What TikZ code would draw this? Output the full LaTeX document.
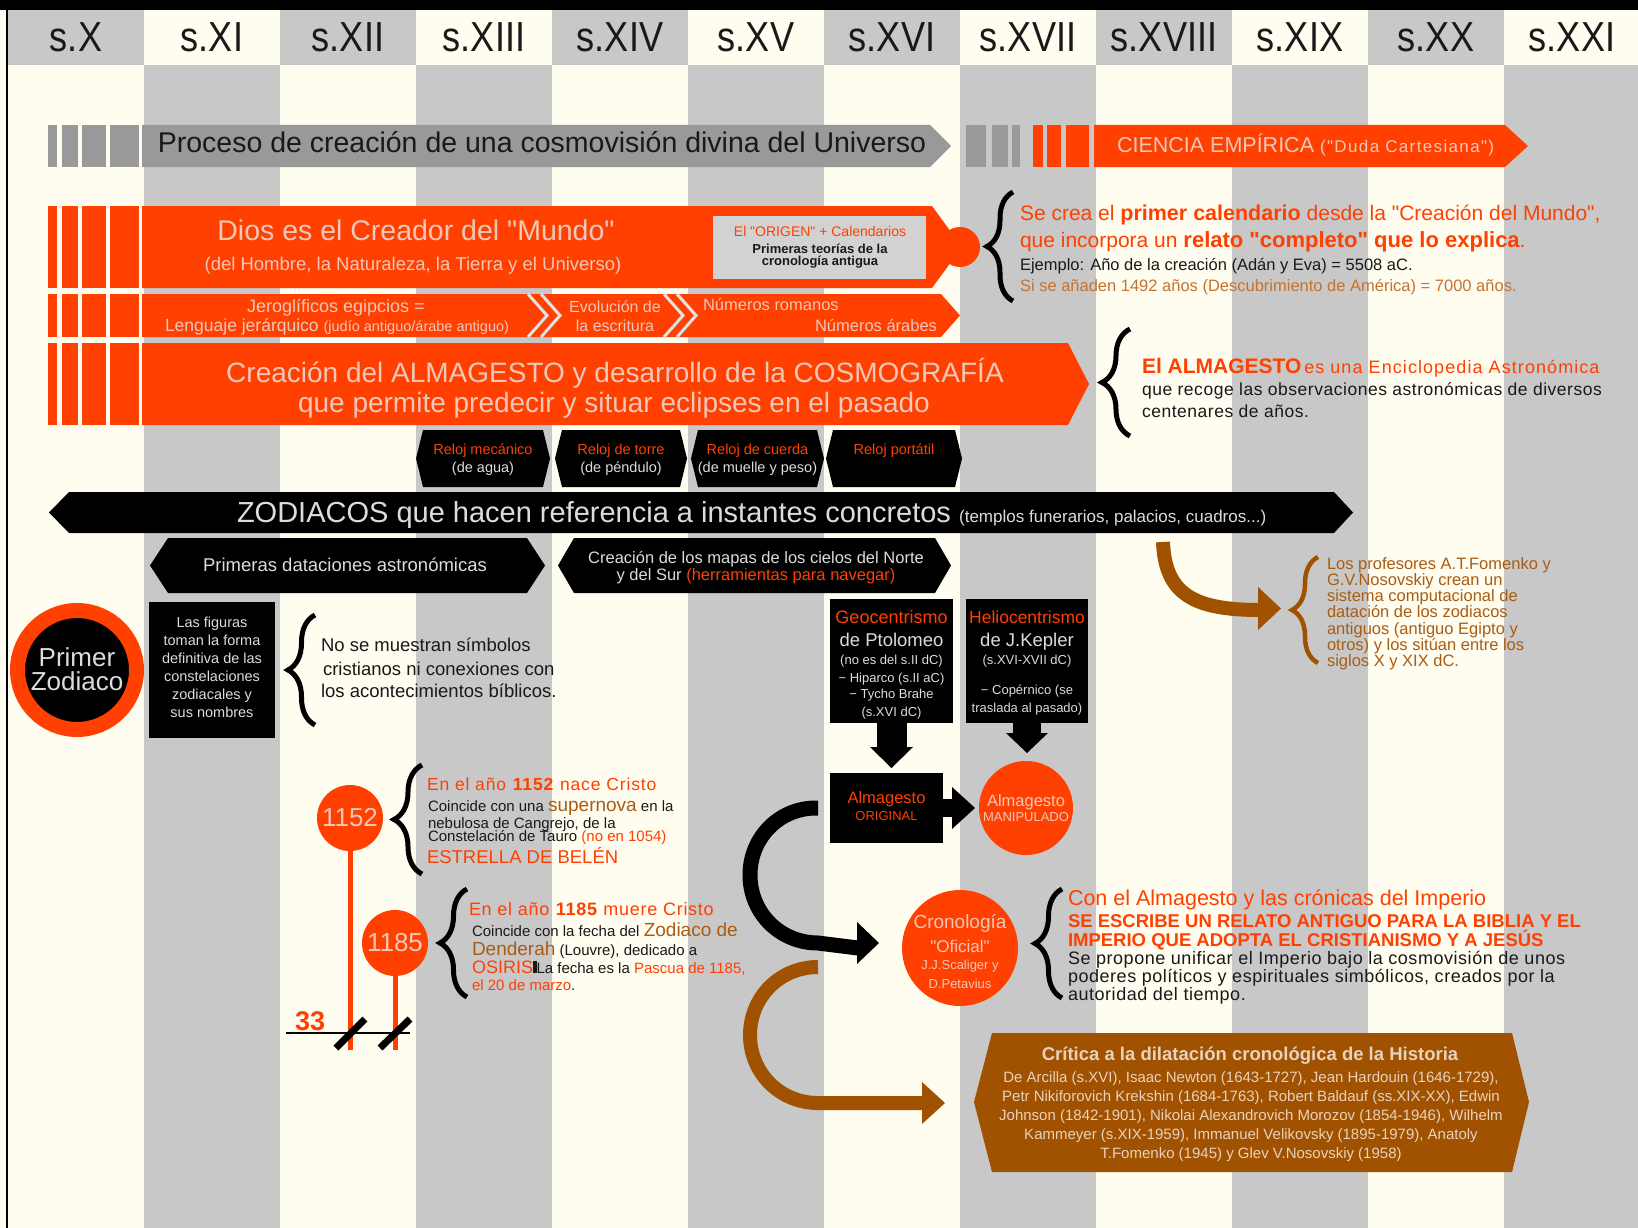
\documentclass[tikz,border=0pt]{standalone}
\usepackage{fontspec}
\usepackage{graphicx}
\setmainfont{Liberation Sans}[Ligatures=TeXOff]
\usetikzlibrary{decorations.pathreplacing}
\definecolor{og}{RGB}{255,64,0}
\definecolor{cream}{RGB}{255,252,240}
\definecolor{lgray}{RGB}{200,200,200}
\definecolor{mgray}{RGB}{153,153,153}
\definecolor{boxgray}{RGB}{210,210,210}
\definecolor{brn}{RGB}{160,82,0}
\definecolor{brtxt}{RGB}{170,92,18}
\definecolor{siena}{RGB}{195,115,50}
\definecolor{peach}{RGB}{240,200,186}
\definecolor{critxt}{RGB}{232,210,190}
\definecolor{ltxt}{RGB}{220,220,220}
\definecolor{dtxt}{RGB}{25,25,25}
\definecolor{chev}{RGB}{225,225,225}
\newcommand\fsz[1]{\fontsize{#1}{#1}\selectfont}
\newcommand\lsp[1]{\addfontfeature{LetterSpace=#1}}
\newcommand\stripes[3]{\foreach \sa/\sb in {48/57,62/78,82/106,110/139}{\fill[#3] (\sa,#1) rectangle (\sb,#2);}}
\newcommand\hexa[6]{\fill[#6] ({#1+#5},#3) -- ({#2-#5},#3) -- (#2,{(#3+#4)/2}) -- ({#2-#5},#4) -- ({#1+#5},#4) -- (#1,{(#3+#4)/2}) -- cycle;}
\begin{document}
\begin{tikzpicture}[x=1pt,y=-1pt,
  every node/.style={inner sep=0pt,outer sep=0pt},
  hdr/.style={font=\fsz{42},text=dtxt,anchor=base},
  tl/.style={anchor=base west},
  tc/.style={anchor=base},
  tr/.style={anchor=base east},
  bbrace/.style={decorate,decoration={brace,amplitude=#1},line width=5pt}]
% background
\fill[cream] (0,0) rectangle (1638,1228);
\useasboundingbox (0,0) rectangle (1638,1228);
\foreach \i in {0,...,11}{
  \pgfmathsetmacro\xa{8+136*\i}
  \pgfmathsetmacro\xb{8+136*(\i+1)}
  \ifodd\i
    \fill[cream] (\xa,10) rectangle (\xb,65);
    \fill[lgray] (\xa,65) rectangle (\xb,1228);
  \else
    \fill[lgray] (\xa,10) rectangle (\xb,65);
    \fill[cream] (\xa,65) rectangle (\xb,1228);
  \fi
}
\fill[black] (0,0) rectangle (1638,10);
\fill[black] (5.5,0) rectangle (7.5,1228);
\foreach \n [count=\c from 0] in {X,XI,XII,XIII,XIV,XV,XVI,XVII,XVIII,XIX,XX,XXI}
  \node[hdr] (hd\c) at ({76+136*\c},52) {\scalebox{0.86}[1]{s.\n}};

% Proceso banner
\stripes{125}{167}{mgray}
\fill[mgray] (142,125) -- (930,125) -- (951,146) -- (930,167) -- (142,167) -- cycle;
\node[tc,font=\fsz{28.5},text=dtxt] (proceso) at (542,153) {Proceso de creación de una cosmovisión divina del Universo};

% Ciencia banner
\foreach \sa/\sb in {966/986,992/1008,1012/1020} \fill[mgray] (\sa,125) rectangle (\sb,167);
\foreach \sa/\sb in {1033/1043,1047/1061,1066/1089} \fill[og] (\sa,125) rectangle (\sb,167);
\fill[og] (1094,125) -- (1505,125) -- (1528,146) -- (1505,167) -- (1094,167) -- cycle;
\node[tl,text=peach] (ciencia) at (1117,153) {\fsz{21.5}CIENCIA EMPÍRICA \fsz{17}\lsp{8}("Duda Cartesiana")};

% Dios row
\stripes{206}{288}{og}
\fill[og] (142,206) -- (932,206) -- (962,247) -- (932,288) -- (142,288) -- cycle;
\fill[og] (960,247) circle (20pt);
\node[tc,font=\fsz{28.5},text=peach] (dios) at (416,240) {Dios es el Creador del "Mundo"};
\node[tc,font=\fsz{18.5},text=peach] (diossub) at (413,270) {(del Hombre, la Naturaleza, la Tierra y el Universo)};
\node[fill=boxgray,minimum width=213pt,minimum height=63pt] (origen) at (819.5,247.5) {};
\node[tc,font=\fsz{14},text=og] (origen1) at (820,236) {El "ORIGEN" + Calendarios};
\node[tc,font=\fsz{13}\bfseries,text=dtxt] (origen2) at (820,253) {Primeras teorías de la};
\node[tc,font=\fsz{13}\bfseries,text=dtxt] (origen3) at (820,265) {cronología antigua};

% Jeroglificos row
\stripes{294}{337}{og}
\fill[og] (142,294) -- (941,294) -- (960,315.5) -- (941,337) -- (142,337) -- cycle;
\foreach \cx in {528,541,664,677}
  \draw[chev,line width=3pt] (\cx,294) -- ({\cx+19},315.5) -- (\cx,337);
\node[tc,font=\fsz{18},text=peach] (jer1) at (336,312) {Jeroglíficos egipcios =};
\node[tc,text=peach] (jer2) at (337,331) {\fsz{17.5}Lenguaje jerárquico \fsz{14.5}(judío antiguo/árabe antiguo)};
\node[tc,font=\fsz{16},text=peach] (evo1) at (615,312) {Evolución de};
\node[tc,font=\fsz{16},text=peach] (evo2) at (615,331) {la escritura};
\node[tl,font=\fsz{16.5},text=peach] (rom) at (703,310) {Números romanos};
\node[tr,font=\fsz{16.5},text=peach] (arab) at (937,331) {Números árabes};

% Almagesto row
\stripes{343}{425}{og}
\fill[og] (142,343) -- (1068,343) -- (1089,384) -- (1068,425) -- (142,425) -- cycle;
\node[tc,font=\fsz{28},text=peach] (alm1) at (615,382) {Creación del ALMAGESTO y desarrollo de la COSMOGRAFÍA};
\node[tc,font=\fsz{28},text=peach] (alm2) at (614,412) {que permite predecir y situar eclipses en el pasado};

% right texts
\draw[bbrace=26pt] (1013,301) -- (1013,192);
\node[tl,text=og] (r1) at (1020,220) {\fsz{21}Se crea el \textbf{\fsz{21.5}primer calendario} desde la "Creación del Mundo",};
\node[tl,text=og] (r2) at (1020,247) {\fsz{21}que incorpora un \textbf{\fsz{22}relato "completo" que lo explica}.};
\node[tl,font=\fsz{16.5},text=dtxt] (r3) at (1020,270) {Ejemplo: Año de la creación (Adán y Eva) = 5508 aC.};
\node[tl,font=\fsz{16.5},text=siena] (r4) at (1020,291) {Si se añaden 1492 años (Descubrimiento de América) = 7000 años.};
\draw[bbrace=28pt] (1130,436) -- (1130,329);
\node[tl,text=og] (r5) at (1142,373) {\textbf{\fsz{21}El ALMAGESTO} \fsz{18}\lsp{6}es una Enciclopedia Astronómica};
\node[tl,font=\fsz{17.5}\lsp{3},text=dtxt] (r6) at (1142,395) {que recoge las observaciones astronómicas de diversos};
\node[tl,font=\fsz{17.5}\lsp{3},text=dtxt] (r7) at (1142,417) {centenares de años.};

% clocks
\hexa{416}{550}{430}{487}{7}{black}
\hexa{555}{687}{430}{487}{7}{black}
\hexa{691}{824}{430}{487}{7}{black}
\hexa{826}{962}{430}{487}{7}{black}
\node[tc,font=\fsz{14.5},text=og] (k1a) at (483,454) {Reloj mecánico};
\node[tc,font=\fsz{14.5},text=ltxt] (k1b) at (483,472) {(de agua)};
\node[tc,font=\fsz{14.5},text=og] (k2a) at (621,454) {Reloj de torre};
\node[tc,font=\fsz{14.5},text=ltxt] (k2b) at (621,472) {(de péndulo)};
\node[tc,font=\fsz{14.5},text=og] (k3a) at (757.5,454) {Reloj de cuerda};
\node[tc,font=\fsz{14.5},text=ltxt] (k3b) at (757.5,472) {(de muelle y peso)};
\node[tc,font=\fsz{14.5},text=og] (k4a) at (894,454) {Reloj portátil};

% Zodiacos bar
\fill[black] (69,492) -- (1334,492) -- (1353,512.5) -- (1334,533) -- (69,533) -- (49,512.5) -- cycle;
\node[tl,text=ltxt] (zod) at (237,522) {\fsz{29}ZODIACOS que hacen referencia a instantes concretos \fsz{17}(templos funerarios, palacios, cuadros...)};
\hexa{150}{545}{538}{593}{18}{black}
\hexa{558}{951}{538}{593}{16}{black}
\node[tc,font=\fsz{18.5},text=ltxt] (prim) at (345,571) {Primeras dataciones astronómicas};
\node[tc,font=\fsz{16.5},text=ltxt] (map1) at (756,563) {Creación de los mapas de los cielos del Norte};
\node[tc,font=\fsz{16.5},text=ltxt] (map2) at (756,580) {y del Sur \textcolor{og}{(herramientas para navegar)}};

% Primer Zodiaco
\node[circle,fill=black,draw=og,line width=15pt,minimum size=119pt] (pz) at (77,670) {};
\node[tc,font=\fsz{26},text=ltxt] (pz1) at (77,666) {Primer};
\node[tc,font=\fsz{26},text=ltxt] (pz2) at (77,690) {Zodiaco};
\node[fill=black,minimum width=126pt,minimum height=136pt] (fig) at (212,670) {};
\foreach \t [count=\k from 0] in {Las figuras,toman la forma,definitiva de las,constelaciones,zodiacales y,sus nombres}
  \node[tc,font=\fsz{14.5},text=ltxt] (fig\k) at (212,{627+18*\k}) {\t};
\draw[bbrace=27pt] (315,725) -- (315,615);
\node[tl,font=\fsz{18.5},text=dtxt] (ns1) at (321,651) {No se muestran símbolos};
\node[tl,font=\fsz{18.5},text=dtxt] (ns2) at (323,675) {cristianos ni conexiones con};
\node[tl,font=\fsz{18.5},text=dtxt] (ns3) at (321,697) {los acontecimientos bíblicos.};

% Geo / Helio
\node[fill=black,minimum width=123pt,minimum height=124pt] (geo) at (891.5,661) {};
\node[fill=black,minimum width=122pt,minimum height=124pt] (helio) at (1027,661) {};
\node[tc,font=\fsz{18},text=og] (g1) at (891.5,623) {Geocentrismo};
\node[tc,font=\fsz{18.5},text=ltxt] (g2) at (891.5,646) {de Ptolomeo};
\node[tc,font=\fsz{13},text=ltxt] (g3) at (891.5,664) {(no es del s.II dC)};
\node[tc,font=\fsz{13},text=ltxt] (g4) at (891.5,682) {− Hiparco (s.II aC)};
\node[tc,font=\fsz{13},text=ltxt] (g5) at (891.5,698) {− Tycho Brahe};
\node[tc,font=\fsz{13},text=ltxt] (g6) at (891.5,716) {(s.XVI dC)};
\node[tc,font=\fsz{17.5},text=og] (h1) at (1027,623) {Heliocentrismo};
\node[tc,font=\fsz{18.5},text=ltxt] (h2) at (1027,646) {de J.Kepler};
\node[tc,font=\fsz{13},text=ltxt] (h3) at (1027,664) {(s.XVI-XVII dC)};
\node[tc,font=\fsz{13},text=ltxt] (h4) at (1027,694) {− Copérnico (se};
\node[tc,font=\fsz{13},text=ltxt] (h5) at (1027,712) {traslada al pasado)};
% down arrows
\fill[black] (877,723) rectangle (907,747);
\fill[black] (870,747) -- (913,747) -- (891.5,768) -- cycle;
\fill[black] (1013,723) rectangle (1041,733);
\fill[black] (1006,733) -- (1048,733) -- (1027,753) -- cycle;

% Almagesto original / manipulado
\node[fill=black,minimum width=113pt,minimum height=70pt] (orig) at (886.5,808) {};
\node[tc,font=\fsz{16.5},text=og] (o1) at (886.5,803) {Almagesto};
\node[tc,font=\fsz{13},text=og] (o2) at (886.5,820) {ORIGINAL};
\node[circle,fill=og,minimum size=94pt] (manip) at (1026,808) {};
\node[tc,font=\fsz{16.5},text=peach] (m1) at (1026,806) {Almagesto};
\node[tc,font=\fsz{13},text=peach] (m2) at (1026,821) {MANIPULADO};
\fill[black] (943,799) rectangle (953,817);
\fill[black] (952,787) -- (975,808) -- (952,829) -- cycle;

% Cronologia
\node[circle,fill=og,minimum size=116pt] (crono) at (960,948) {};
\node[tc,font=\fsz{19},text=peach] (cr1) at (960,928) {Cronología};
\node[tc,font=\fsz{17},text=peach] (cr2) at (960,952) {"Oficial"};
\node[tc,font=\fsz{13},text=peach] (cr3) at (960,969) {J.J.Scaliger y};
\node[tc,font=\fsz{13},text=peach] (cr4) at (960,988) {D.Petavius};

% curved arrows
\coordinate (bs) at ([xshift=-12pt]orig.west);
\coordinate (be) at ([xshift=-44pt]crono.west);
\draw[black,line width=15pt] (bs) .. controls (780,807) and (750,837) .. (750,875) .. controls (750,913) and (780,943) .. (818,943) -- (be);
\fill[black] (857,922) -- (879,943) -- (857,964) -- cycle;
\draw[brn,line width=14pt] (818,967) .. controls (780,967) and (750,997) .. (750,1035) .. controls (750,1073) and (780,1103) .. (818,1103) -- (924,1103);
\fill[brn] (922,1082) -- (945,1103) -- (922,1124) -- cycle;
\draw[brn,line width=14pt] (1163,542) .. controls (1165,595) and (1195,610) .. (1260,610);
\fill[brn] (1258,587) -- (1281,608.5) -- (1258,630) -- cycle;

% Fomenko
\draw[bbrace=26pt,brn,line width=4.5pt] (1318,663) -- (1318,557);
\foreach \t [count=\k from 0] in {Los profesores A.T.Fomenko y,G.V.Nosovskiy crean un,sistema computacional de,datación de los zodiacos,antiguos (antiguo Egipto y,otros) y los sitúan entre los,siglos X y XIX dC.}
  \node[tl,font=\fsz{16.5},text=brtxt] (fo\k) at (1327,{569+16.3*\k}) {\t};

% 1152 / 1185
\fill[og] (348,850) rectangle (353,1050);
\fill[og] (393,975) rectangle (398,1050);
\node[circle,fill=og,minimum size=66pt,font=\fsz{26},text=peach] (c1152) at (350,818) {1152};
\node[circle,fill=og,minimum size=66pt,font=\fsz{26},text=peach] (c1185) at (395,943) {1185};
\draw[black,line width=1.5pt] (286,1033) -- (410,1033);
\draw[black,line width=7pt] (336,1048) -- (365,1019);
\draw[black,line width=7pt] (380,1048) -- (410,1019);
\node[tl,font=\fsz{27}\bfseries,text=og] (n33) at (295,1030) {33};
\draw[bbrace=28pt] (422,874) -- (422,765);
\node[tl,font=\fsz{17.5}\lsp{5},text=og] (a1) at (427,790) {En el año \textbf{1152} nace Cristo};
\node[tl,font=\fsz{15},text=dtxt] (a2) at (428,811) {Coincide con una {\color{brtxt}\fsz{19}supernova} en la};
\node[tl,font=\fsz{15},text=dtxt] (a3) at (428,828) {nebulosa de Cangrejo, de la};
\node[tl,font=\fsz{15},text=dtxt] (a4) at (428,841) {Constelación de Tauro {\color{og}(no en 1054)}};
\node[tl,font=\fsz{18.5},text=og] (a5) at (427,863) {ESTRELLA DE BELÉN};
\draw[bbrace=27pt] (467,997) -- (467,889);
\node[tl,font=\fsz{18}\lsp{4},text=og] (b1) at (469,915) {En el año \textbf{1185} muere Cristo};
\node[tl,font=\fsz{15},text=dtxt] (b2) at (472,936) {Coincide con la fecha del {\color{brtxt}\fsz{19}Zodiaco de}};
\node[tl,font=\fsz{15},text=dtxt] (b3) at (472,955) {{\color{brtxt}\fsz{19}Denderah} (Louvre), dedicado a};
\node[tl,font=\fsz{15},text=dtxt] (b4) at (472,973) {{\color{og}\fsz{18}OSIRIS}\rule{3.5pt}{12pt}La fecha es la {\color{og}Pascua de 1185,}};
\node[tl,font=\fsz{15},text=dtxt] (b5) at (472,990) {{\color{og}el 20 de marzo}.};

% Con el Almagesto
\draw[bbrace=27pt] (1062,998) -- (1062,889);
\node[tl,font=\fsz{21.5},text=og] (e1) at (1068,905) {Con el Almagesto y las crónicas del Imperio};
\node[tl,font=\fsz{18.5}\bfseries,text=og] (e2) at (1068,927) {SE ESCRIBE UN RELATO ANTIGUO PARA LA BIBLIA Y EL};
\node[tl,font=\fsz{18.5}\bfseries,text=og] (e3) at (1068,946) {IMPERIO QUE ADOPTA EL CRISTIANISMO Y A JESÚS};
\node[tl,font=\fsz{18}\lsp{3},text=dtxt] (e4) at (1068,964) {Se propone unificar el Imperio bajo la cosmovisión de unos};
\node[tl,font=\fsz{18}\lsp{3},text=dtxt] (e5) at (1068,982) {poderes políticos y espirituales simbólicos, creados por la};
\node[tl,font=\fsz{18}\lsp{3},text=dtxt] (e6) at (1068,1000) {autoridad del tiempo.};

% Critica
\fill[brn] (992,1033) -- (1512,1033) -- (1529,1102) -- (1512,1172) -- (992,1172) -- (974,1102) -- cycle;
\node[tc,font=\fsz{18.5}\bfseries,text=critxt] (k0) at (1250,1060) {Crítica a la dilatación cronológica de la Historia};
\node[tc,font=\fsz{15},text=critxt] (k1) at (1251,1082) {De Arcilla (s.XVI), Isaac Newton (1643-1727), Jean Hardouin (1646-1729),};
\node[tc,font=\fsz{15},text=critxt] (k2) at (1251,1101) {Petr Nikiforovich Krekshin (1684-1763), Robert Baldauf (ss.XIX-XX), Edwin};
\node[tc,font=\fsz{15},text=critxt] (k3) at (1251,1120) {Johnson (1842-1901), Nikolai Alexandrovich Morozov (1854-1946), Wilhelm};
\node[tc,font=\fsz{15},text=critxt] (k4) at (1251,1139) {Kammeyer (s.XIX-1959), Immanuel Velikovsky (1895-1979), Anatoly};
\node[tc,font=\fsz{15},text=critxt] (k5) at (1251,1158) {T.Fomenko (1945) y Glev V.Nosovskiy (1958)};
\end{tikzpicture}
\end{document}
